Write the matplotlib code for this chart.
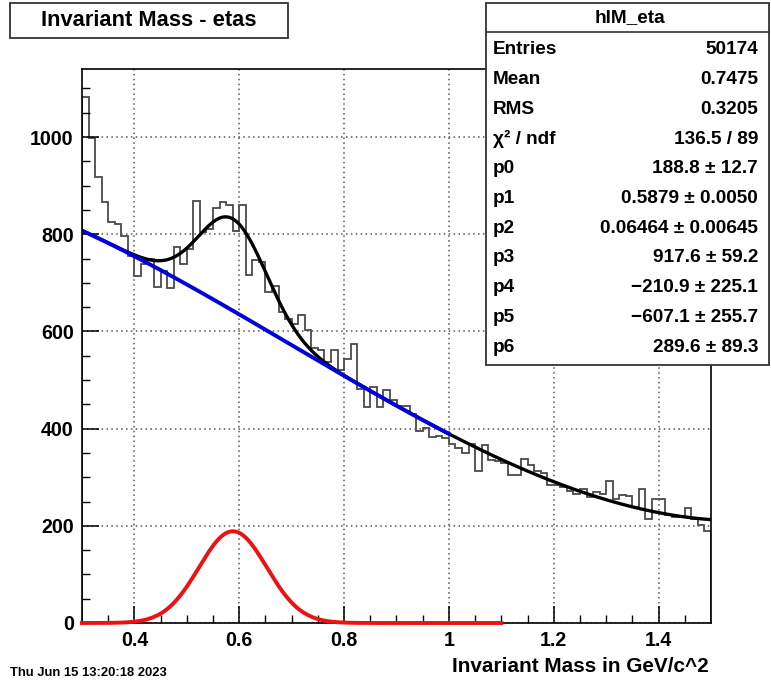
import numpy as np
import matplotlib
matplotlib.use("Agg")
import matplotlib.pyplot as plt
from matplotlib import font_manager
from matplotlib.patches import Rectangle
from matplotlib.lines import Line2D

# histogram contents, 96 bins of 0.0125 from 0.3 to 1.5
counts = [1083, 999, 918, 866, 825, 821, 797, 755, 715, 739,
          750, 691, 725, 690, 773, 739, 770, 869, 805, 810,
          853, 867, 860, 807, 861, 716, 746, 742, 682, 694,
          640, 626, 616, 633, 603, 566, 561, 537, 561, 520,
          544, 575, 482, 444, 486, 444, 479, 458, 446, 446,
          430, 396, 402, 382, 385, 380, 369, 360, 349, 369,
          313, 366, 335, 333, 330, 304, 304, 338, 325, 312,
          308, 284, 284, 280, 272, 266, 275, 259, 270, 265,
          292, 256, 264, 262, 238, 275, 213, 256, 256, 222,
          218, 218, 236, 215, 201, 189]
x_lo, x_hi = 0.3, 1.5

# fit parameters from the stats box
par_names = ["p0", "p1", "p2", "p3", "p4", "p5", "p6"]
par_vals = [188.8, 0.5879, 0.06464, 917.6, -210.9, -607.1, 289.6]
par_text = ["188.8 \u00b1 12.7", "0.5879 \u00b1 0.0050", "0.06464 \u00b1 0.00645",
            "917.6 \u00b1 59.2", "\u2212210.9 \u00b1 225.1", "\u2212607.1 \u00b1 255.7",
            "289.6 \u00b1 89.3"]
stat_names = ["Entries", "Mean", "RMS", "\u03c7\u00b2 / ndf"]
stat_vals = ["50174", "0.7475", "0.3205", "136.5 / 89"]

names = {f.name for f in font_manager.fontManager.ttflist}
if "Liberation Sans Narrow" in names:
    FAM = "Liberation Sans Narrow"
    k = 1.0
else:
    FAM = "Liberation Sans"
    k = 0.83
plt.rcParams["font.family"] = [FAM, "DejaVu Sans"]

W, H = 771, 687
fig = plt.figure(figsize=(W / 100, H / 100), dpi=100)
ax = fig.add_axes([82 / W, 1 - 623 / H, (711 - 82) / W, (623 - 69) / H])

def fx(px):
    return px / W

def fy(py):
    return 1 - py / H

p = par_vals
def gaus(x):
    return p[0] * np.exp(-0.5 * ((x - p[1]) / p[2]) ** 2)

def bkg(x):
    return p[3] + p[4] * x + p[5] * x ** 2 + p[6] * x ** 3

edges = np.linspace(x_lo, x_hi, len(counts) + 1)
ax.stairs(counts, edges, color="#4a4a4a", lw=1.3)

xt = np.linspace(x_lo, x_hi, 400)
ax.plot(xt, gaus(xt) + bkg(xt), color="black", lw=2.4)
xb = np.linspace(x_lo, 1.0, 200)
ax.plot(xb, bkg(xb), color="#0000dd", lw=2.8)
xr = np.linspace(x_lo, 1.1, 200)
ax.plot(xr, gaus(xr), color="#ee1111", lw=2.8, clip_on=False, zorder=4)

ax.set_xlim(x_lo, x_hi)
ax.set_ylim(0, 1140)
ax.set_xticks([0.4, 0.6, 0.8, 1.0, 1.2, 1.4])
ax.set_xticklabels(["0.4", "0.6", "0.8", "1", "1.2", "1.4"])
ax.set_xticks(np.arange(0.35, 1.5, 0.05), minor=True)
ax.set_yticks([0, 200, 400, 600, 800, 1000])
ax.set_yticks(np.arange(50, 1140, 50), minor=True)
ax.tick_params(which="major", direction="in", length=12, width=1.1,
               labelsize=17 * k, pad=6)
ax.tick_params(which="minor", direction="in", length=6, width=1.0)
for lab in ax.get_xticklabels() + ax.get_yticklabels():
    lab.set_fontweight("bold")
ax.grid(True, which="major", color="#555555", linestyle=(0, (1, 2.2)), lw=1.1)
for s in ax.spines.values():
    s.set_linewidth(1.2)

fig.text(fx(709), fy(667), "Invariant Mass in GeV/c^2", ha="right", va="center",
         fontsize=18 * k, fontweight="bold")
fig.text(fx(10), fy(673), "Thu Jun 15 13:20:18 2023", ha="left", va="center",
         fontsize=11.3 * k, fontweight="bold")

# title box
fig.add_artist(Rectangle((fx(10), fy(38)), 278 / W, 35 / H, transform=fig.transFigure,
                         fill=False, lw=1.3, color="#333333"))
fig.text(fx(149), fy(21), "Invariant Mass - etas", ha="center", va="center",
         fontsize=19 * k, fontweight="bold")

# stats box
fig.add_artist(Rectangle((fx(486), fy(365)), 283 / W, 362 / H, transform=fig.transFigure,
                         facecolor="white", edgecolor="#333333", lw=1.3, zorder=5))
fig.add_artist(Line2D([fx(486), fx(769)], [fy(32), fy(32)], transform=fig.transFigure,
                      color="#333333", lw=1.2, zorder=6))
fig.text(fx(630), fy(18), "hIM_eta", ha="center", va="center",
         fontsize=16.5 * k, fontweight="bold", zorder=7)
rows = list(zip(stat_names, stat_vals)) + list(zip(par_names, par_text))
for i, (lab, val) in enumerate(rows):
    y = fy(50 + i * 29.7)
    fig.text(fx(493), y, lab, ha="left", va="center", fontsize=16.5 * k,
             fontweight="bold", zorder=7)
    fig.text(fx(758), y, val, ha="right", va="center", fontsize=16.5 * k,
             fontweight="bold", zorder=7)

fig.savefig("out.png", dpi=100)
